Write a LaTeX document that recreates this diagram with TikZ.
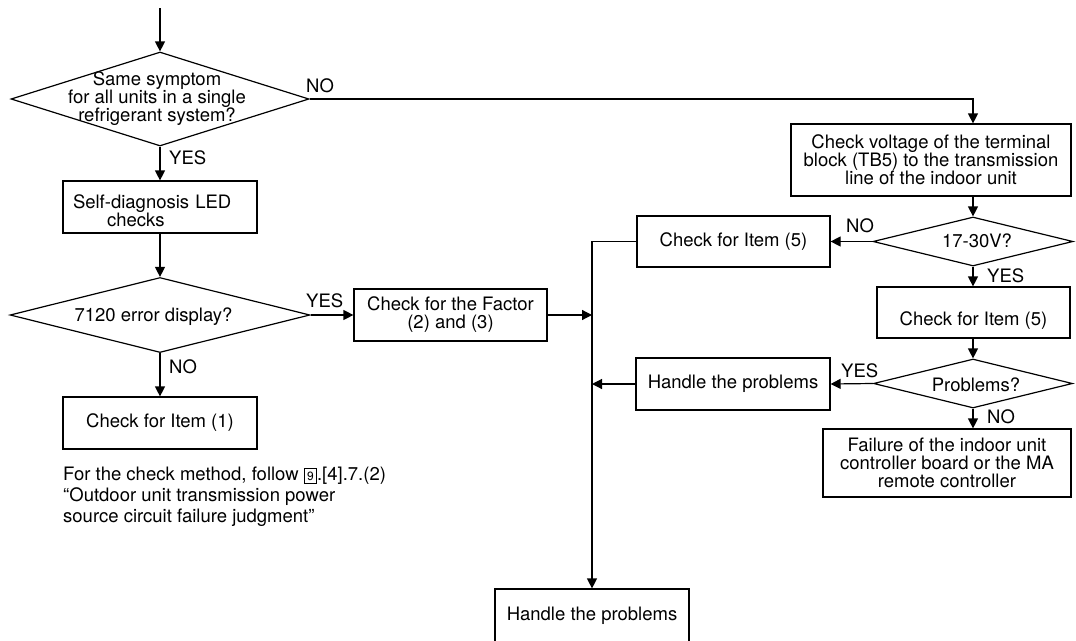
\documentclass[tikz,border=0pt]{standalone}
\usepackage{fontspec}
\setmainfont{TeX Gyre Heros}
\usetikzlibrary{arrows.meta,shapes.geometric}
\begin{document}
\begin{tikzpicture}[x=1pt,y=-1pt,
  font=\fontsize{18.5}{18}\selectfont,
  box/.style={draw, line width=1.2pt, inner sep=0pt, align=center},
  dia/.style={draw, shape=diamond, inner sep=0pt, line width=1.2pt},
  dtext/.style={inner sep=0pt, align=center},
  lbl/.style={inner sep=0pt, anchor=base west},
  arr/.style={-{Triangle[length=10pt,width=10pt]}, line width=1.2pt},
  ln/.style={line width=1.2pt}]
\useasboundingbox (0,0) rectangle (1076,640);

% left column
\coordinate (top) at (160,8);
\node[dia, minimum width=298pt, minimum height=94pt] (d1) at (160,99) {};
\node[dtext] (d1t) at (157,98.5) {Same symptom\\for all units in a single\\refrigerant system?};
\node[box, minimum width=194pt, minimum height=52pt, text width=174pt, align=left, inner xsep=10pt] (self) at (160,207) {\rule{0pt}{21.7pt}Self-diagnosis LED\\\hspace*{34pt}checks};
\node[dia, minimum width=300pt, minimum height=75pt] (d2) at (160,315) {};
\node[dtext] (d2t) at (153.5,316.5) {7120 error display?};
\node[box, minimum width=193pt, minimum height=52pt] (fac) at (450.5,315) {Check for the Factor\\(2) and (3)};
\node[box, minimum width=194pt, minimum height=52pt] (it1) at (160,423) {Check for Item (1)};
\node[inner sep=0pt, anchor=north west, align=left, font=\fontsize{18.5}{21}\selectfont] (note) at (63,466.5)
  {For the check method, follow {\fboxsep=2.5pt\fboxrule=0.8pt\fbox{\fontsize{12}{12}\selectfont 9}}.[4].7.(2)\\``Outdoor unit transmission power\\source circuit failure judgment''};

% right column
\node[box, minimum width=280pt, minimum height=72pt] (volt) at (931,160) {Check voltage of the terminal\\block (TB5) to the transmission\\line of the indoor unit};
\node[dia, minimum width=200pt, minimum height=49pt] (d3) at (973,241.5) {};
\node[dtext] (d3t) at (977,240.5) {17-30V?};
\node[box, minimum width=193pt, minimum height=51pt] (i5a) at (733.5,241.5) {Check for Item (5)};
\node[box, minimum width=193pt, minimum height=51pt, text height=29pt] (i5b) at (973.5,312.5) {Check for Item (5)};
\node[dia, minimum width=199pt, minimum height=49pt] (d4) at (973,383.5) {};
\node[dtext] (d4t) at (976,384.5) {Problems?};
\node[box, minimum width=194pt, minimum height=52pt] (h1) at (733,384) {Handle the problems};
\node[box, minimum width=248pt, minimum height=68pt] (fail) at (947,463) {Failure of the indoor unit\\controller board or the MA\\remote controller};
\node[box, minimum width=194pt, minimum height=54pt] (h2) at (592,616) {Handle the problems};

% labels
\node[lbl] (l1) at (306,92) {NO};
\node[lbl] (l2) at (169,164) {YES};
\node[lbl] (l3) at (306,307) {YES};
\node[lbl] (l4) at (169,373) {NO};
\node[lbl] (l5) at (846,232) {NO};
\node[lbl] (l6) at (987,282) {YES};
\node[lbl] (l7) at (841,377) {YES};
\node[lbl] (l8) at (987,423) {NO};

% connectors
\draw[arr] (top) -- (d1.north);
\draw[arr] (d1.east) -| (d3.north |- volt.north);
\draw[arr] (d1.south) -- (self.north);
\draw[arr] (self.south) -- (d2.north);
\draw[arr] (d2.east) -- (fac.west);
\draw[arr] (d2.south) -- (it1.north);
\draw[arr] (fac.east) -- (fac.east -| h2.north);
\draw[arr] (i5a.west) -| (h2.north);
\draw[arr] (h1.west) -- (h1.west -| h2.north);
\draw[arr] (d3.north |- volt.south) -- (d3.north);
\draw[arr] (d3.west) -- (i5a.east);
\draw[arr] (d3.south) -- (d3.south |- i5b.north);
\draw[arr] (d3.south |- i5b.south) -- (d4.north);
\draw[arr] (d4.west) -- (h1.east);
\draw[arr] (d4.south) -- (d4.south |- fail.north);
\end{tikzpicture}
\end{document}
